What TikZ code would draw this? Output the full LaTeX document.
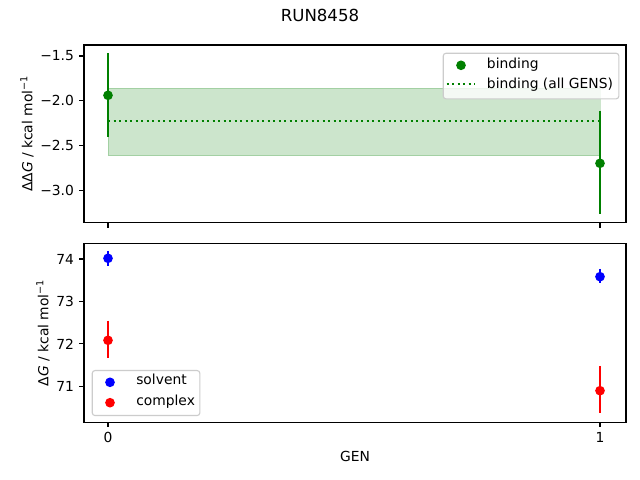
\documentclass[tikz,border=0pt]{standalone}
\usepackage{fontspec}
\setmainfont{DejaVu Sans}
\definecolor{mplgreen}{HTML}{008000}
\definecolor{mplblue}{HTML}{0000FF}
\definecolor{mplred}{HTML}{FF0000}
\definecolor{legedge}{HTML}{CCCCCC}
\tikzset{
  axframe/.style={draw=black, line width=0.8pt},
  tickmark/.style={draw=black, line width=0.8pt},
  ticklab/.style={inner sep=0pt, font=\fontsize{10}{12}\selectfont},
  errbar/.style={line width=1.5pt},
  dotmark/.style={circle, inner sep=0pt, minimum size=7pt},
  legbox/.style={draw=legedge, fill=white, fill opacity=0.8, line width=0.8pt, rounded corners=2pt},
  legtext/.style={inner sep=0pt, anchor=base west, font=\fontsize{10}{12}\selectfont},
  dottedline/.style={draw=mplgreen, line width=1.5pt, dash pattern=on 1.5pt off 2.475pt},
}
\begin{document}
\begin{tikzpicture}[x=0.01in, y=-0.01in]
\useasboundingbox[fill=white] (0,0) rectangle (640,480);

% title
\node[anchor=base, inner sep=0pt, font=\fontsize{12}{14}\selectfont] (title) at (320,21.7) {RUN8458};

% ===== top axes =====
\coordinate (tA) at (84,45);
\coordinate (tB) at (626,222.7);
% band
\fill[mplgreen, opacity=0.2] (108,88) rectangle (600,155.7);
\draw[mplgreen, opacity=0.2, line width=0.5pt] (108,88) rectangle (600,155.7);
% dotted mean line
\coordinate (ml0) at (108,120.7);
\coordinate (ml1) at (600,120.7);
\draw[dottedline] (ml0) -- (ml1);
% error bars
\coordinate (e0a) at (108,53.3); \coordinate (e0b) at (108,136.7);
\coordinate (e1a) at (600,111); \coordinate (e1b) at (600,214.3);
\draw[mplgreen, errbar] (e0a) -- (e0b);
\draw[mplgreen, errbar] (e1a) -- (e1b);
\node[dotmark, fill=mplgreen] (b0) at (108,95.3) {};
\node[dotmark, fill=mplgreen] (b1) at (600,163.3) {};
% frame
\draw[axframe] (tA) rectangle (tB);
% ticks
\foreach \yy/\lab in {56/{−1.5}, 100.9/{−2.0}, 145.5/{−2.5}, 190.1/{−3.0}}{
  \draw[tickmark] (84,\yy) -- (79.1,\yy);
  \node[ticklab, anchor=east] at (74.2,\yy) {\lab};
}
\foreach \xx in {108,600}{
  \draw[tickmark] (\xx,222.7) -- (\xx,227.6);
}
\node[rotate=90, anchor=base, inner sep=0pt, font=\fontsize{10}{12}\selectfont] (ylab1) at (32.3,133.8) {ΔΔ\textit{G} / kcal mol\textsuperscript{−1}};
% legend
\node[legbox, minimum width=175.6*0.01in, minimum height=45.6*0.01in, anchor=north west] (leg1) at (442.7,52.7) {};
\node[dotmark, fill=mplgreen] (lm1) at (461,65.3) {};
\node[legtext] (lt1) at (486.7,69) {binding};
\coordinate (ld0) at (446.7,84.3);
\coordinate (ld1) at (474.3,84.3);
\draw[dottedline] (ld0) -- (ld1);
\node[legtext] (lt2) at (486.7,88.7) {binding (all GENS)};

% ===== bottom axes =====
\coordinate (bA) at (84,243.3);
\coordinate (bB) at (626,422.3);
\draw[mplblue, errbar] (108,251) -- (108,265.7);
\draw[mplred, errbar] (108,320.7) -- (108,357.7);
\draw[mplblue, errbar] (600,269) -- (600,282.7);
\draw[mplred, errbar] (600,366) -- (600,413.3);
\node[dotmark, fill=mplblue] (s0) at (108,258.3) {};
\node[dotmark, fill=mplred] (c0) at (108,340.3) {};
\node[dotmark, fill=mplblue] (s1) at (600,276.7) {};
\node[dotmark, fill=mplred] (c1) at (600,390.7) {};
\draw[axframe] (bA) rectangle (bB);
\foreach \yy/\lab in {259/74, 301.5/73, 343.9/72, 386.2/71}{
  \draw[tickmark] (84,\yy) -- (79.1,\yy);
  \node[ticklab, anchor=east] at (74.2,\yy) {\lab};
}
\foreach \xx/\lab in {108/0, 600/1}{
  \draw[tickmark] (\xx,422.3) -- (\xx,427.2);
  \node[ticklab, anchor=base] at (\xx,442.3) {\lab};
}
\node[rotate=90, anchor=base, inner sep=0pt, font=\fontsize{10}{12}\selectfont] (ylab2) at (48.3,332.8) {Δ\textit{G} / kcal mol\textsuperscript{−1}};
\node[anchor=base, inner sep=0pt, font=\fontsize{10}{12}\selectfont] (xlab) at (355,462) {GEN};
% legend
\node[legbox, minimum width=107.6*0.01in, minimum height=45*0.01in, anchor=north west] (leg2) at (91.7,370) {};
\node[dotmark, fill=mplblue] (lm2) at (110,382.3) {};
\node[legtext] (lt3) at (136,385) {solvent};
\node[dotmark, fill=mplred] (lm3) at (110,402.7) {};
\node[legtext] (lt4) at (136,405.7) {complex};
\end{tikzpicture}
\end{document}
